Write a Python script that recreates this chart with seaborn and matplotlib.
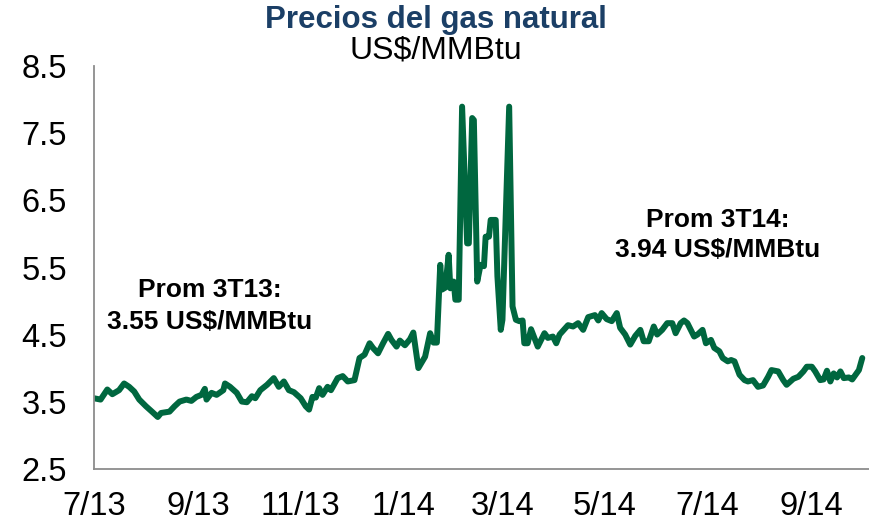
import numpy as np
import pandas as pd
import seaborn as sns
import matplotlib
matplotlib.use("Agg")
from matplotlib import pyplot as plt

# Henry Hub natural gas price (US$/MMBtu)
dates = [
    "2013-07-01", "2013-07-05", "2013-07-09", "2013-07-12", "2013-07-16", "2013-07-19",
    "2013-07-22", "2013-07-25", "2013-07-28", "2013-08-01", "2013-08-05", "2013-08-08",
    "2013-08-10", "2013-08-15", "2013-08-18", "2013-08-21", "2013-08-25", "2013-08-28",
    "2013-08-31", "2013-09-03", "2013-09-05", "2013-09-06", "2013-09-09", "2013-09-12",
    "2013-09-16", "2013-09-17", "2013-09-20", "2013-09-24", "2013-09-27", "2013-09-30",
    "2013-10-03", "2013-10-05", "2013-10-08", "2013-10-12", "2013-10-16", "2013-10-19",
    "2013-10-22", "2013-10-25", "2013-10-28", "2013-11-01", "2013-11-04", "2013-11-06",
    "2013-11-08", "2013-11-10", "2013-11-12", "2013-11-14", "2013-11-17", "2013-11-19",
    "2013-11-23", "2013-11-26", "2013-11-29", "2013-12-03", "2013-12-06", "2013-12-09",
    "2013-12-12", "2013-12-14", "2013-12-17", "2013-12-20", "2013-12-23", "2013-12-25",
    "2013-12-28", "2013-12-30", "2014-01-02", "2014-01-05", "2014-01-07", "2014-01-10",
    "2014-01-14", "2014-01-17", "2014-01-19", "2014-01-21", "2014-01-23", "2014-01-24",
    "2014-01-26", "2014-01-28", "2014-01-29", "2014-01-31", "2014-02-01", "2014-02-03",
    "2014-02-05", "2014-02-08", "2014-02-09", "2014-02-11", "2014-02-12", "2014-02-14",
    "2014-02-16", "2014-02-18", "2014-02-19", "2014-02-21", "2014-02-22", "2014-02-25",
    "2014-02-26", "2014-02-28", "2014-03-01", "2014-03-05", "2014-03-07", "2014-03-09",
    "2014-03-11", "2014-03-13", "2014-03-14", "2014-03-16", "2014-03-18", "2014-03-20",
    "2014-03-22", "2014-03-24", "2014-03-26", "2014-03-28", "2014-03-31", "2014-04-02",
    "2014-04-04", "2014-04-09", "2014-04-12", "2014-04-15", "2014-04-18", "2014-04-21",
    "2014-04-25", "2014-04-27", "2014-04-29", "2014-05-02", "2014-05-05", "2014-05-08",
    "2014-05-10", "2014-05-13", "2014-05-16", "2014-05-19", "2014-05-22", "2014-05-24",
    "2014-05-27", "2014-05-30", "2014-06-01", "2014-06-04", "2014-06-07", "2014-06-10",
    "2014-06-12", "2014-06-15", "2014-06-17", "2014-06-19", "2014-06-23", "2014-06-25",
    "2014-06-28", "2014-06-30", "2014-07-03", "2014-07-05", "2014-07-08", "2014-07-10",
    "2014-07-13", "2014-07-15", "2014-07-17", "2014-07-20", "2014-07-23", "2014-07-25",
    "2014-07-28", "2014-07-31", "2014-08-03", "2014-08-06", "2014-08-08", "2014-08-12",
    "2014-08-15", "2014-08-17", "2014-08-21", "2014-08-24", "2014-08-27", "2014-08-29",
    "2014-09-01", "2014-09-03", "2014-09-06", "2014-09-08", "2014-09-10", "2014-09-12",
    "2014-09-14", "2014-09-16", "2014-09-18", "2014-09-20", "2014-09-23", "2014-09-25",
    "2014-09-29", "2014-10-01",
]
prices = [
    3.55, 3.53, 3.68, 3.61, 3.67, 3.77,
    3.72, 3.65, 3.53, 3.43, 3.34, 3.27,
    3.33, 3.35, 3.43, 3.50, 3.53, 3.51,
    3.57, 3.60, 3.69, 3.53, 3.63, 3.60,
    3.67, 3.77, 3.72, 3.63, 3.50, 3.49,
    3.58, 3.55, 3.67, 3.75, 3.85, 3.72,
    3.80, 3.67, 3.64, 3.55, 3.43, 3.38,
    3.57, 3.56, 3.70, 3.60, 3.72, 3.67,
    3.85, 3.88, 3.80, 3.82, 4.15, 4.20,
    4.37, 4.30, 4.22, 4.37, 4.51, 4.42,
    4.32, 4.41, 4.34, 4.43, 4.53, 4.00,
    4.17, 4.52, 4.38, 4.38, 5.54, 5.17,
    5.20, 5.69, 5.19, 5.29, 5.02, 5.02,
    7.90, 5.86, 5.86, 7.73, 7.70, 5.29,
    5.54, 5.52, 5.96, 5.96, 6.21, 6.21,
    5.37, 4.57, 4.72, 7.90, 4.92, 4.72,
    4.70, 4.71, 4.37, 4.37, 4.58, 4.45,
    4.32, 4.42, 4.52, 4.45, 4.47, 4.37,
    4.50, 4.64, 4.62, 4.67, 4.57, 4.76,
    4.79, 4.71, 4.82, 4.73, 4.70, 4.82,
    4.60, 4.50, 4.35, 4.48, 4.57, 4.40,
    4.40, 4.62, 4.50, 4.57, 4.67, 4.67,
    4.52, 4.67, 4.71, 4.67, 4.47, 4.50,
    4.57, 4.37, 4.42, 4.30, 4.25, 4.15,
    4.10, 4.12, 4.10, 3.90, 3.82, 3.80,
    3.82, 3.72, 3.74, 3.87, 3.97, 3.95,
    3.82, 3.75, 3.84, 3.87, 3.95, 4.02,
    4.02, 3.95, 3.82, 3.83, 3.96, 3.80,
    3.92, 3.86, 3.95, 3.85, 3.86, 3.83,
    3.97, 4.15,
]
y_ticks = [2.5, 3.5, 4.5, 5.5, 6.5, 7.5, 8.5]
x_ticks = ["2013-07-01", "2013-09-01", "2013-11-01", "2014-01-01",
           "2014-03-01", "2014-05-01", "2014-07-01", "2014-09-01"]
x_labels = ["7/13", "9/13", "11/13", "1/14", "3/14", "5/14", "7/14", "9/14"]

df = pd.DataFrame({"fecha": pd.to_datetime(dates), "precio": prices})

sns.set_style("white")
plt.rcParams["font.family"] = ["Liberation Sans", "DejaVu Sans"]
plt.rcParams["text.color"] = "black"

fig = plt.figure(figsize=(8.69, 5.23), dpi=100)
ax = fig.add_axes([0.108, 0.104, 0.892, 0.769])

sns.lineplot(data=df, x="fecha", y="precio", color="#00673F", linewidth=4.3, ax=ax)

ax.set_ylim(2.5, 8.5)
ax.set_yticks(y_ticks)
ax.set_yticklabels([f"{v:.1f}" for v in y_ticks])
ax.set_xlim(pd.Timestamp("2013-07-01"), pd.Timestamp("2014-10-05"))
ax.set_xticks(pd.to_datetime(x_ticks))
ax.set_xticklabels(x_labels)
ax.set_xlabel("")
ax.set_ylabel("")

for side in ["top", "right"]:
    ax.spines[side].set_visible(False)
for side in ["left", "bottom"]:
    ax.spines[side].set_color("#8C8C8C")
    ax.spines[side].set_linewidth(1.3)
ax.tick_params(axis="both", direction="in", length=6.5, width=1.3, color="#8C8C8C",
               labelsize=23.5, labelcolor="black", pad=19.5)
ax.tick_params(axis="x", pad=16)

fig.text(0.502, 0.962, "Precios del gas natural", ha="center", va="center",
         fontsize=22.5, fontweight="bold", color="#1B3F66")
fig.text(0.502, 0.903, "US$/MMBtu", ha="center", va="center", fontsize=23, color="black")

# average price boxes
ax.text(pd.Timestamp("2013-09-08"), 5.17, "Prom 3T13:", ha="center", va="center",
        fontsize=19, fontweight="bold", color="black")
ax.text(pd.Timestamp("2013-09-08"), 4.69, "3.55 US$/MMBtu", ha="center", va="center",
        fontsize=19, fontweight="bold", color="black")
ax.text(pd.Timestamp("2014-07-07"), 6.21, "Prom 3T14:", ha="center", va="center",
        fontsize=19, fontweight="bold", color="black")
ax.text(pd.Timestamp("2014-07-07"), 5.76, "3.94 US$/MMBtu", ha="center", va="center",
        fontsize=19, fontweight="bold", color="black")

fig.savefig("out.png", dpi=100)
